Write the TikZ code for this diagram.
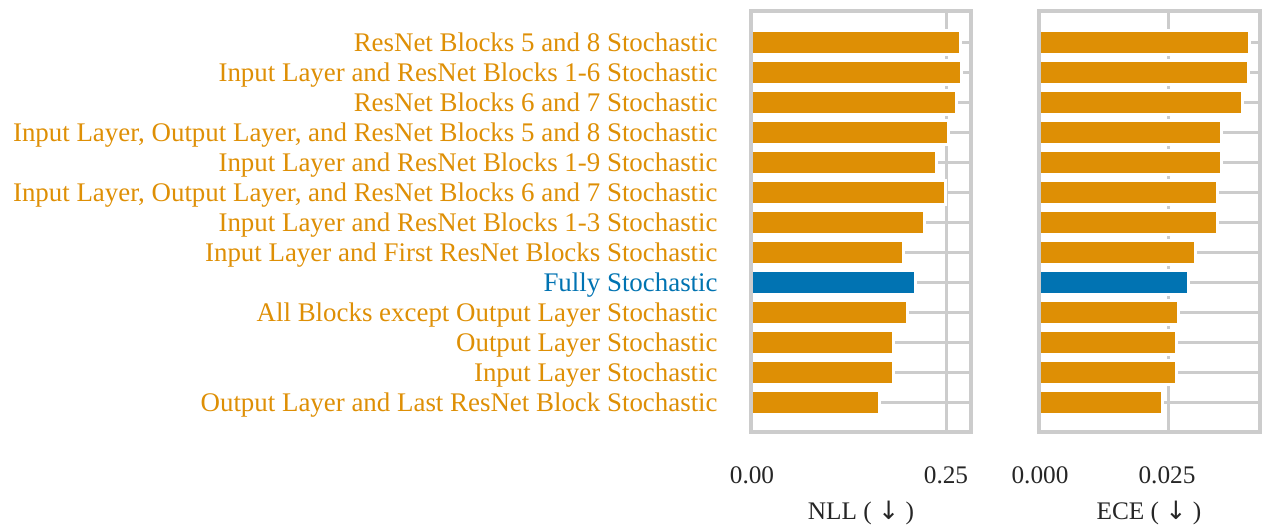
\documentclass[tikz,border=0pt]{standalone}
\usepackage{fontspec}
\setmainfont{Liberation Serif}
\newfontfamily\arrowfont{DejaVu Sans}
\definecolor{abOrange}{HTML}{DE8F05}
\definecolor{abBlue}{HTML}{0173B2}
\definecolor{abGrid}{HTML}{CCCCCC}
\definecolor{abInk}{HTML}{262626}
\usetikzlibrary{calc}
\tikzset{
  gridline/.style={abGrid, line width=1.5pt},
  frameline/.style={abGrid, line width=2pt},
  halo/.style={draw=white, line width=3pt},
  rowlabel/.style={anchor=base east, inner sep=0pt, font=\fontsize{13.45}{16}\selectfont},
  ticklabel/.style={anchor=base, inner sep=0pt, text=abInk, font=\fontsize{12.65}{15}\selectfont}
}

\begin{document}
\begin{tikzpicture}[x=0.5pt, y=-0.5pt]
    \useasboundingbox (0,0) rectangle (1263,531);
    \coordinate (nllO) at (753,0);
    \coordinate (eceO) at (1041,0);
    \draw[gridline] (946,10.5) -- (946,432);
    \draw[gridline] (1168,10.5) -- (1168,432);
    \foreach \i/\txt/\nll/\ece/\col in {
        1/ResNet Blocks 5 and 8 Stochastic/0.267/0.0407/abOrange,
        2/Input Layer and ResNet Blocks 1-6 Stochastic/0.268/0.0406/abOrange,
        3/ResNet Blocks 6 and 7 Stochastic/0.262/0.0394/abOrange,
        4/{Input Layer, Output Layer, and ResNet Blocks 5 and 8 Stochastic}/0.251/0.0352/abOrange,
        5/Input Layer and ResNet Blocks 1-9 Stochastic/0.236/0.0352/abOrange,
        6/{Input Layer, Output Layer, and ResNet Blocks 6 and 7 Stochastic}/0.247/0.0345/abOrange,
        7/Input Layer and ResNet Blocks 1-3 Stochastic/0.220/0.0345/abOrange,
        8/Input Layer and First ResNet Blocks Stochastic/0.193/0.0301/abOrange,
        9/Fully Stochastic/0.209/0.0288/abBlue,
        10/All Blocks except Output Layer Stochastic/0.198/0.0268/abOrange,
        11/Output Layer Stochastic/0.180/0.0263/abOrange,
        12/Input Layer Stochastic/0.180/0.0263/abOrange,
        13/Output Layer and Last ResNet Block Stochastic/0.162/0.0236/abOrange} {
      \pgfmathsetmacro{\yy}{12+30*\i}
      \pgfmathsetmacro{\xn}{753+772*\nll}
      \pgfmathsetmacro{\xe}{1041+5080*\ece}
      \draw[gridline] (751,\yy) -- (971,\yy);
      \draw[gridline] (1039,\yy) -- (1260,\yy);
      \filldraw[halo, fill=\col] (753,\yy-10.5) rectangle (\xn,\yy+10.5);
      \filldraw[halo, fill=\col] (1041,\yy-10.5) rectangle (\xe,\yy+10.5);
      \fill[\col] (753,\yy-10.5) rectangle (\xn,\yy+10.5);
      \fill[\col] (1041,\yy-10.5) rectangle (\xe,\yy+10.5);
      \node[rowlabel, text=\col] (lab\i) at (718,\yy+9) {\txt};
    }
    \draw[frameline] (751,10.5) rectangle (971,432);
    \draw[frameline] (1039,10.5) rectangle (1260,432);
    \node[ticklabel] (nll0) at (752,483) {0.00};
    \node[ticklabel] (nll1) at (946,483) {0.25};
    \node[ticklabel] (ece0) at (1040,483) {0.000};
    \node[ticklabel] (ece1) at (1167,483) {0.025};
    \node[ticklabel] (nllT) at (861,519) {NLL ( {\arrowfont ↓} )};
    \node[ticklabel] (eceT) at (1149,519) {ECE ( {\arrowfont ↓} )};
  \end{tikzpicture}
\end{document}
